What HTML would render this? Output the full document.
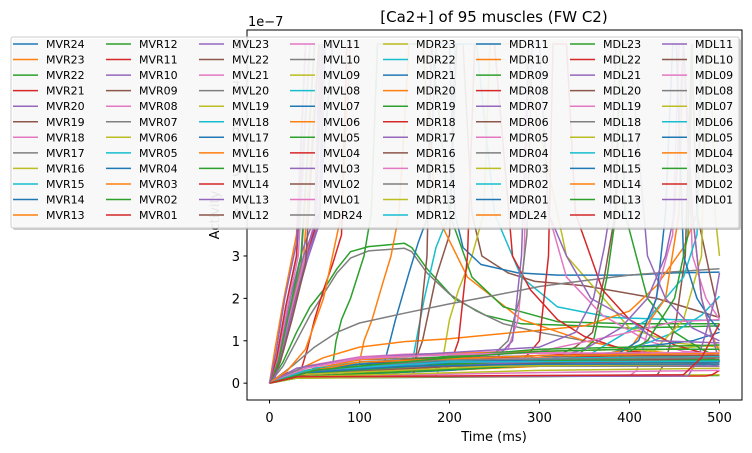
<!DOCTYPE html>
<html><head><meta charset="utf-8"><style>
html,body{margin:0;padding:0;background:#fff;}
svg{display:block;font-family:"DejaVu Sans","Liberation Sans",sans-serif;}
</style></head><body>
<svg id="chart" width="752" height="453" viewBox="0 0 752 453"></svg>
<script>
const NS="http://www.w3.org/2000/svg";
const palette=["#1f77b4","#ff7f0e","#2ca02c","#d62728","#9467bd","#8c564b","#e377c2","#7f7f7f","#bcbd22","#17becf"];
const names=["MVR24","MVR23","MVR22","MVR21","MVR20","MVR19","MVR18","MVR17","MVR16","MVR15","MVR14","MVR13",
"MVR12","MVR11","MVR10","MVR09","MVR08","MVR07","MVR06","MVR05","MVR04","MVR03","MVR02","MVR01",
"MVL23","MVL22","MVL21","MVL20","MVL19","MVL18","MVL17","MVL16","MVL15","MVL14","MVL13","MVL12",
"MVL11","MVL10","MVL09","MVL08","MVL07","MVL06","MVL05","MVL04","MVL03","MVL02","MVL01","MDR24",
"MDR23","MDR22","MDR21","MDR20","MDR19","MDR18","MDR17","MDR16","MDR15","MDR14","MDR13","MDR12",
"MDR11","MDR10","MDR09","MDR08","MDR07","MDR06","MDR05","MDR04","MDR03","MDR02","MDR01","MDL24",
"MDL23","MDL22","MDL21","MDL20","MDL19","MDL18","MDL17","MDL16","MDL15","MDL14","MDL13","MDL12",
"MDL11","MDL10","MDL09","MDL08","MDL07","MDL06","MDL05","MDL04","MDL03","MDL02","MDL01"];
// per-colour shape pools (time ms : value in 1e-7)
const blueSeries=["0:0,10:0.4,20:1.2,35:2.5,55:4,70:8",
"0:0,30:0.15,120:0.18,128:0.5,140:1.5,155:2.6,165:3.3,177:4,185:8,200:8,206:4,215:3.2,235:2.8,276:2.6,320:2.55,400:2.55,450:2.6,500:2.62",
"0:0,50:0.35,100:0.45,150:0.5,300:0.52,500:0.45","0:0,50:0.3,100:0.5,200:0.6,300:0.65,400:0.7,500:0.7",
"0:0,40:0.25,100:0.4,200:0.5,300:0.6,380:0.7,400:0.85,430:0.9,470:1.0,500:1.2",
"0:0,30:0.15,200:0.3,300:0.45,380:0.6,410:1.0,430:2,440:4,448:8,452:8,460:3,475:2,490:1.5,500:1.25",
"0:0,8:0.6,18:1.8,30:3,45:8","0:0,50:0.3,150:0.45,300:0.5,500:0.4","0:0,50:0.3,100:0.45,300:0.55,400:0.5,500:0.5","0:0,40:0.25,150:0.4,300:0.45,500:0.45"];
const orangeSeries=["0:0,10:0.5,22:1.6,38:3,55:8",
"0:0,30:0.15,95:0.18,100:0.5,105:1,114:1.5,125:2.3,135:3,144:4,155:8,170:8,185:4,220:2.5,280:1.5,350:1.0,400:0.8,500:0.6",
"0:0,30:0.3,60:0.6,100:0.85,150:0.98,200:1.05,250:1.15,300:1.25,350:1.35,400:1.7,430:2.3,460:3.2,475:4,480:8",
"0:0,40:0.3,100:0.55,200:0.7,300:0.75,400:0.8,500:0.8",
"0:0,30:0.15,300:0.4,400:0.8,440:2,455:4,460:8,470:4,480:2,490:1.2,500:0.75",
"0:0,50:0.3,150:0.5,300:0.6,500:0.65","0:0,40:0.2,200:0.45,400:0.5,500:0.5","0:0,6:0.8,16:2,30:3.5,40:8",
"0:0,20:0.3,40:0.8,60:2,80:4,90:8","0:0,50:0.3,100:0.5,300:0.65,500:0.7"];
const greenSeries=["0:0,15:0.5,30:1.2,45:1.8,60:2.2,75:2.7,90:3.1,110:3.22,150:3.3,158:3.2,175:2.7,205:2.0,240:1.6,280:1.4,350:1.35,400:1.3,500:1.35",
"0:0,30:0.12,65:0.15,70:0.4,74:1,80:1.5,90:2,105:3,113:4,120:8,180:8,200:4,225:2.5,260:1.8,320:1.45,400:1.4,500:1.4",
"0:0,30:0.15,300:0.45,340:0.6,360:1,375:2.5,385:4,390:8,395:4,420:2,450:1.2,480:0.8,500:0.6",
"0:0,30:0.12,500:0.18","0:0,50:0.3,150:0.5,250:0.55,400:0.55,500:0.55",
"0:0,30:0.15,380:0.5,420:1.0,450:2,465:3.5,470:8","0:0,40:0.3,150:0.55,300:0.8,400:0.85,500:0.9",
"0:0,10:0.5,20:1.5,35:3,50:8","0:0,50:0.25,200:0.45,350:0.55,500:0.55","0:0,50:0.3,200:0.6,300:0.75,400:0.8,500:0.8"];
const redSeries=["0:0,10:0.4,20:1.2,35:2.6,50:3.6,60:8",
"0:0,20:0.25,35:0.3,42:0.8,50:1.5,60:2.2,70:2.8,80:3.5,86:8",
"0:0,40:0.2,200:0.4,210:1,220:3,228:8,250:8,270:3,290:2.2,320:1.5,350:1.1,400:0.75,500:0.6",
"0:0,40:0.25,200:0.45,280:0.5,300:1,310:3,315:8,330:8,340:4,370:2.2,400:1.5,450:0.9,500:0.6",
"0:0,30:0.15,485:0.17,492:0.2,500:0.3","0:0,50:0.3,150:0.5,250:0.6,350:0.7,500:0.7",
"0:0,40:0.25,150:0.45,300:0.55,420:0.7,500:0.55","0:0,50:0.25,200:0.4,300:0.5,500:0.5",
"0:0,8:0.6,18:1.8,30:3,40:8","0:0,30:0.15,460:0.2,480:0.6,490:1,500:1.4"];
const purpleSeries=["0:0,5:0.05,15:0.8,25:1.8,40:2.9,55:3.8,60:8","0:0,5:0.05,14:0.9,24:1.9,38:3,52:3.8,58:8",
"0:0,5:0.05,16:0.8,27:1.8,42:2.9,56:3.8,62:8","0:0,5:0.05,13:0.9,23:2,36:3.1,50:3.9,56:8",
"0:0,30:0.35,100:0.6,200:0.72,300:0.85,340:1.2,360:2,372:3.2,378:4,385:8,400:8,420:3,440:2,470:1.3,500:1.0",
"0:0,40:0.2,150:0.4,250:0.55,270:1,280:3,288:8,300:8,310:4,330:3,357:2,400:1.5,430:1.0,500:0.95",
"0:0,30:0.15,465:0.17,475:0.5,485:1.2,495:2,500:2.6",
"0:0,40:0.25,300:0.5,350:0.8,390:1.3,420:2,440:3,450:4,460:8,470:4,480:2,500:0.5",
"0:0,50:0.3,200:0.5,400:0.45,500:0.4","0:0,7:0.7,17:2,30:3.3,40:8"];
const brownSeries=["0:0,30:0.2,150:0.3,160:0.4,170:1,185:2.5,200:3.5,208:8,215:8,225:4,236:3,265:2.6,295:2.4,350:2.3,430:2.0,500:1.55",
"0:0,30:0.2,250:0.45,300:0.55,320:0.65,340:0.85,359:1.2,372:2.5,384:4,390:8",
"0:0,30:0.15,430:0.17,440:0.5,452:1.5,462:3,469:8,475:4,490:2.5,500:1.55",
"0:0,12:0.5,25:1.5,40:2.8,55:8","0:0,40:0.25,150:0.4,300:0.5,500:0.45",
"0:0,30:0.15,160:0.2,165:1,175:3,180:8","0:0,50:0.3,200:0.5,400:0.55,500:0.55",
"0:0,40:0.3,150:0.55,300:0.65,500:0.65","0:0,40:0.2,200:0.4,350:0.5,500:0.6"];
const pinkSeries=["0:0,10:0.5,20:1.4,35:2.6,50:3.8,58:8",
"0:0,40:0.4,100:0.62,150:0.68,200:0.7,250:0.74,265:0.8,276:1.5,283:3,288:8,300:8,310:4,330:2.5,370:1.6,420:1.0,460:0.75,500:0.7",
"0:0,30:0.15,400:0.17,408:0.3,420:1.2,435:2.5,448:3.5,455:8,460:8,470:3,485:2,500:1.5",
"0:0,40:0.35,100:0.58,200:0.68,300:0.72,400:0.7,500:0.65","0:0,50:0.3,200:0.6,300:0.75,400:1.2,450:1.45,500:1.5",
"0:0,40:0.3,200:0.55,350:0.6,500:0.6","0:0,30:0.15,300:0.25,500:0.3","0:0,9:0.6,19:1.7,32:3,45:8",
"0:0,40:0.35,100:0.6,250:0.7,500:0.72"];
const graySeries=["0:0,15:0.4,30:1.0,45:1.6,60:2.1,75:2.6,90:2.95,110:3.12,150:3.18,158:3.1,175:2.6,200:2.1,230:1.7,260:1.4,300:1.2,350:1.0,400:0.8,450:0.6,500:0.4",
"0:0,25:0.4,50:0.85,75:1.2,100:1.42,150:1.65,200:1.87,250:2.07,300:2.28,350:2.42,400:2.55,450:2.63,500:2.7",
"0:0,40:0.4,100:0.55,200:0.62,250:0.7,265:1,278:2,286:3.5,292:8","0:0,10:0.6,20:1.5,35:2.8,50:8",
"0:0,50:0.3,200:0.5,500:0.5","0:0,40:0.25,200:0.45,500:0.45","0:0,50:0.3,150:0.5,350:0.55,500:0.55",
"0:0,30:0.2,200:0.4,500:0.4","0:0,40:0.3,200:0.55,500:0.6"];
const oliveSeries=["0:0,30:0.12,185:0.17,192:0.5,200:1.5,210:2.2,225:3,238:4,245:8,280:8,330:3,400:1.3,450:0.95,500:0.85",
"0:0,50:0.3,200:0.5,350:0.65,500:0.9","0:0,30:0.15,300:0.4,420:0.6,460:1.5,480:3,486:8,490:8,495:4,500:3.0",
"0:0,30:0.12,500:0.2","0:0,40:0.25,200:0.4,500:0.5","0:0,50:0.3,200:0.55,500:0.6",
"0:0,30:0.15,300:0.3,500:0.35","0:0,40:0.3,150:0.5,500:0.55","0:0,30:0.2,250:0.4,500:0.45"];
const cyanSeries=["0:0,30:0.2,100:0.35,158:0.42,163:1,172:2,185:3.2,200:4,206:8,230:8,250:4,280:2.5,320:1.8,380:1.55,450:1.5,500:1.48",
"0:0,50:0.35,100:0.5,300:0.6,380:0.72,420:0.95,450:1.2,480:1.6,500:2.05",
"0:0,40:0.2,350:0.6,420:1.5,460:2.5,475:3.5,481:8","0:0,50:0.35,150:0.55,300:0.6,500:0.6",
"0:0,40:0.3,150:0.5,500:0.55","0:0,50:0.3,200:0.55,500:0.55","0:0,40:0.25,200:0.5,500:0.5",
"0:0,50:0.3,150:0.5,350:0.6,500:0.62","0:0,40:0.3,200:0.5,500:0.52"];
const pools=[blueSeries,orangeSeries,greenSeries,redSeries,purpleSeries,brownSeries,pinkSeries,graySeries,oliveSeries,cyanSeries];
const xTicks=[0,100,200,300,400,500];
const yTicks=[0,1,2,3,4,5,6,7,8];

const X0=247,X1=742,Y0=30,Y1=400,xmin=-25,xmax=525,ymin=-0.397,ymax=8.33;
const xs=t=>X0+(t-xmin)/(xmax-xmin)*(X1-X0);
const ys=v=>Y1-(v-ymin)/(ymax-ymin)*(Y1-Y0);
const svg=document.getElementById('chart');
function mk(tag,attrs,parent){const e=document.createElementNS(NS,tag);for(const k in attrs)e.setAttribute(k,attrs[k]);(parent||svg).appendChild(e);return e;}
const defs=mk('defs',{});
const cp=mk('clipPath',{id:'clip'},defs);mk('rect',{x:X0,y:Y0,width:X1-X0,height:Y1-Y0},cp);
const plot=mk('g',{'clip-path':'url(#clip)'});


names.forEach((n,i)=>{
  const c=i%10, k=Math.floor(i/10);
  const s=pools[c][k%pools[c].length];
  const pts=s.split(',').map(p=>{const [t,v]=p.split(':').map(Number);return xs(t).toFixed(1)+','+ys(v).toFixed(1);}).join(' ');
  const l=mk('polyline',{points:pts,fill:'none',stroke:palette[c],'stroke-width':1.5,'stroke-linejoin':'round'},plot);
  
  
});
const frame=mk('rect',{x:X0,y:Y0,width:X1-X0,height:Y1-Y0,fill:'none',stroke:'#000','stroke-width':1});


xTicks.forEach(t=>{
  const x=xs(t);
  mk('line',{x1:x,x2:x,y1:Y1,y2:Y1+3.5,stroke:'#000'});
  const tx=mk('text',{x:x,y:422,'font-size':13,'text-anchor':'middle',fill:'#000'});tx.textContent=t;
  
  
});
yTicks.forEach(v=>{
  const y=ys(v);
  mk('line',{x1:X0-3.5,x2:X0,y1:y,y2:y,stroke:'#000'});
  const tx=mk('text',{x:X0-7,y:y+5,'font-size':13,'text-anchor':'end',fill:'#000'});tx.textContent=v;
  
  
});
const mult=mk('text',{x:248,y:26,'font-size':13});mult.textContent='1e\u22127';


const title=mk('text',{x:494,y:22,'font-size':15,'text-anchor':'middle'});title.textContent='[Ca2+] of 95 muscles (FW C2)';


const xl=mk('text',{x:494,y:441,'font-size':13,'text-anchor':'middle'});xl.textContent='Time (ms)';


const yl=mk('text',{x:219,y:215,'font-size':13,'text-anchor':'middle',transform:'rotate(-90 219 215)'});yl.textContent='Activity';


// legend
const lg=mk('g',{});


mk('rect',{x:13,y:39,width:728,height:191,rx:2,fill:'#999','fill-opacity':0.5},lg);
mk('rect',{x:11,y:37,width:728,height:191,rx:2,fill:'#fff','fill-opacity':0.85,stroke:'#ccc'},lg);
const colX=[13,106,199,290,383,476,570,662];
names.forEach((n,i)=>{
  const col=Math.floor(i/12),row=i%12;
  const y=44+row*15.55,x=colX[col];
  const g=mk('g',{},lg);
  
  
  mk('line',{x1:x,x2:x+25,y1:y,y2:y,stroke:palette[i%10],'stroke-width':1.5},g);
  const t=mk('text',{x:x+33,y:y+4,'font-size':11,fill:'#000'},g);t.textContent=n;
});
</script>
</body></html>
